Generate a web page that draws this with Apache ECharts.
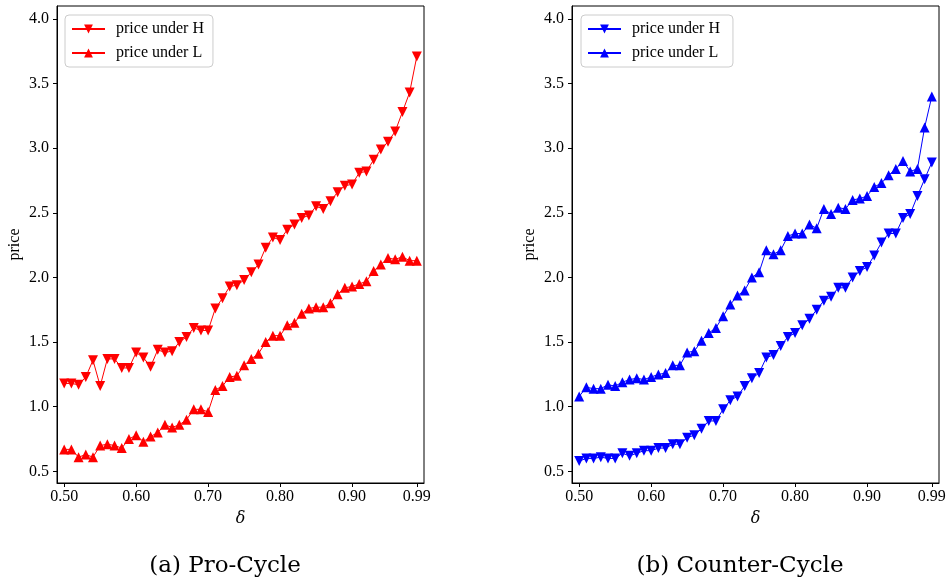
<!DOCTYPE html>
<html>
<head>
<meta charset="utf-8">
<script src="https://cdn.jsdelivr.net/npm/echarts@6/dist/echarts.min.js"></script>
<style>
  html, body { margin: 0; padding: 0; background: #fff; }
  #chart { width: 950px; height: 583px; }
</style>
</head>
<body>
<div id="chart"></div>
<script>
// delta values 0.50 .. 0.99
var deltas = [];
for (var k = 50; k <= 99; k++) deltas.push(k / 100);

var xTicks = [0.50, 0.60, 0.70, 0.80, 0.90, 0.99];
var yTicks = [0.5, 1.0, 1.5, 2.0, 2.5, 3.0, 3.5, 4.0];

// (a) Pro-Cycle
var proH = [1.18, 1.18, 1.17, 1.23, 1.36, 1.16, 1.37, 1.37, 1.30, 1.30,
            1.42, 1.38, 1.31, 1.44, 1.42, 1.43, 1.50, 1.54, 1.61, 1.59,
            1.59, 1.76, 1.84, 1.93, 1.94, 1.98, 2.04, 2.10, 2.23, 2.31,
            2.29, 2.37, 2.41, 2.46, 2.48, 2.55, 2.53, 2.59, 2.66, 2.71,
            2.72, 2.81, 2.82, 2.91, 2.99, 3.05, 3.13, 3.28, 3.43, 3.71];
var proL = [0.67, 0.67, 0.61, 0.63, 0.61, 0.70, 0.71, 0.70, 0.68, 0.75,
            0.78, 0.73, 0.77, 0.80, 0.86, 0.84, 0.86, 0.90, 0.98, 0.98,
            0.96, 1.13, 1.16, 1.23, 1.24, 1.32, 1.37, 1.41, 1.50, 1.55,
            1.55, 1.63, 1.65, 1.72, 1.76, 1.77, 1.77, 1.80, 1.87, 1.92,
            1.93, 1.95, 1.97, 2.05, 2.10, 2.15, 2.14, 2.16, 2.13, 2.13];

// (b) Counter-Cycle
var counterH = [0.58, 0.60, 0.60, 0.61, 0.60, 0.60, 0.64, 0.62, 0.64, 0.66,
                0.66, 0.68, 0.68, 0.71, 0.71, 0.76, 0.78, 0.83, 0.89, 0.89,
                0.98, 1.05, 1.08, 1.16, 1.22, 1.26, 1.38, 1.40, 1.47, 1.54,
                1.57, 1.63, 1.68, 1.75, 1.82, 1.85, 1.92, 1.92, 2.00, 2.05,
                2.08, 2.17, 2.27, 2.34, 2.34, 2.46, 2.49, 2.63, 2.76, 2.89];
var counterL = [1.08, 1.15, 1.14, 1.14, 1.17, 1.16, 1.19, 1.21, 1.22, 1.21,
                1.23, 1.25, 1.26, 1.32, 1.32, 1.42, 1.43, 1.51, 1.57, 1.61,
                1.70, 1.79, 1.86, 1.90, 2.00, 2.04, 2.21, 2.18, 2.21, 2.32,
                2.34, 2.34, 2.41, 2.38, 2.53, 2.49, 2.54, 2.53, 2.60, 2.61,
                2.63, 2.70, 2.73, 2.79, 2.84, 2.90, 2.82, 2.84, 3.16, 3.40];

function pairs(ys) {
    return deltas.map(function (d, i) { return [d, ys[i]]; });
}

var serif = 'Liberation Serif, Times New Roman, serif';

function xAx(idx) {
    return {
        type: 'value', gridIndex: idx, min: 0.49, max: 1.0,
        name: 'δ', nameLocation: 'middle', nameGap: 28,
        nameTextStyle: { fontFamily: 'DejaVu Serif', fontStyle: 'italic', fontSize: 16, color: '#000' },
        axisLine: { show: true, lineStyle: { color: '#000', width: 1 } },
        axisTick: { show: true, length: 4, lineStyle: { color: '#000' }, customValues: xTicks },
        axisLabel: { fontFamily: serif, fontSize: 16, color: '#000', margin: 6,
            customValues: xTicks,
            formatter: function (v) { return v.toFixed(2); } },
        splitLine: { show: false }
    };
}

function yAx(idx) {
    return {
        type: 'value', gridIndex: idx, min: 0.41, max: 4.1,
        name: 'price', nameLocation: 'middle', nameGap: 34, nameRotate: 90,
        nameTextStyle: { fontFamily: serif, fontSize: 16, color: '#000' },
        axisLine: { show: true, lineStyle: { color: '#000', width: 1 } },
        axisTick: { show: true, length: 4, lineStyle: { color: '#000' }, customValues: yTicks },
        axisLabel: { fontFamily: serif, fontSize: 16, color: '#000', margin: 8,
            customValues: yTicks,
            formatter: function (v) { return v.toFixed(1); } },
        splitLine: { show: false }
    };
}

function line(name, data, color, idx, down) {
    return {
        name: name, type: 'line', xAxisIndex: idx, yAxisIndex: idx,
        data: pairs(data),
        symbol: 'triangle', symbolSize: 10, symbolRotate: down ? 180 : 0,
        showSymbol: true,
        lineStyle: { color: color, width: 1 },
        itemStyle: { color: color },
        animation: false
    };
}

function legend(idx, left) {
    return {
        orient: 'vertical', left: left, top: 15,
        data: idx === 0 ? ['price under H', 'price under L'] : ['price under H ', 'price under L '],
        itemWidth: 33, itemHeight: 11, itemGap: 8,
        padding: [6, 9, 6, 6],
        borderColor: '#ccc', borderWidth: 1, borderRadius: 4,
        backgroundColor: '#fff',
        textStyle: { fontFamily: serif, fontSize: 16, color: '#000', padding: [0, 0, 0, 6] }
    };
}

var chart = echarts.init(document.getElementById('chart'));
chart.setOption({
    backgroundColor: '#fff',
    animation: false,
    title: [
        { text: '(a) Pro-Cycle', left: 220, top: 550, textAlign: 'center',
          textStyle: { fontFamily: 'DejaVu Serif', fontSize: 23, fontWeight: 'normal', color: '#000' } },
        { text: '(b) Counter-Cycle', left: 735, top: 550, textAlign: 'center',
          textStyle: { fontFamily: 'DejaVu Serif', fontSize: 23, fontWeight: 'normal', color: '#000' } }
    ],
    legend: [legend(0, 65), legend(1, 581)],
    grid: [
        { left: 57, top: 6, width: 367, height: 477, show: true, borderColor: '#000', borderWidth: 1, backgroundColor: 'transparent' },
        { left: 572, top: 6, width: 367, height: 477, show: true, borderColor: '#000', borderWidth: 1, backgroundColor: 'transparent' }
    ],
    xAxis: [xAx(0), xAx(1)],
    yAxis: [yAx(0), yAx(1)],
    series: [
        line('price under H', proH, '#ff0000', 0, true),
        line('price under L', proL, '#ff0000', 0, false),
        line('price under H ', counterH, '#0000ff', 1, true),
        line('price under L ', counterL, '#0000ff', 1, false)
    ]
});
</script>
</body>
</html>
